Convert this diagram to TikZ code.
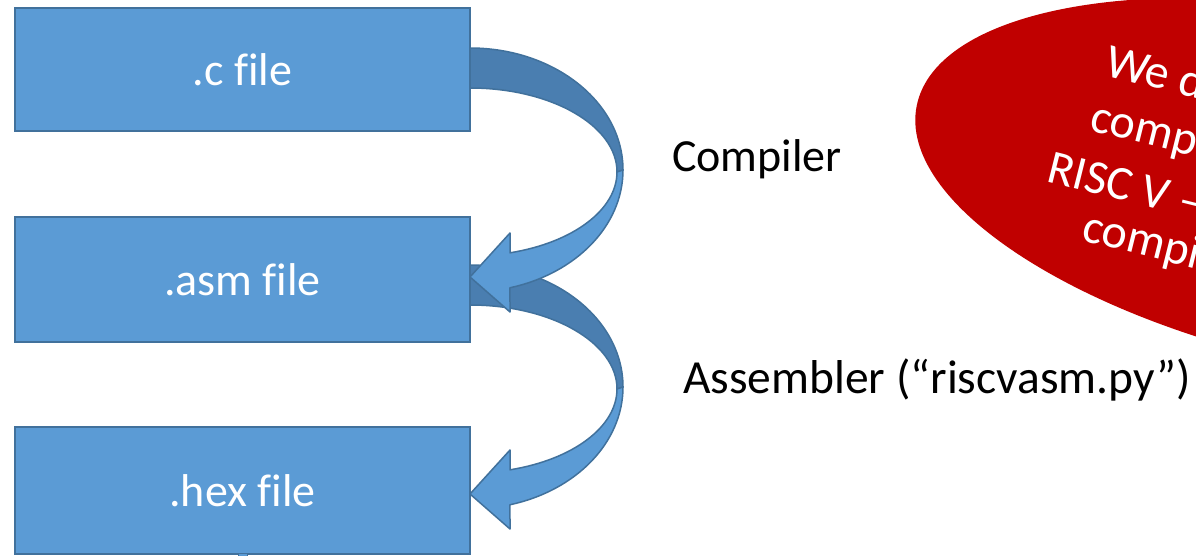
\documentclass[tikz,border=0pt]{standalone}
\usepackage{fontspec}
\setmainfont{Carlito}[Ligatures=NoCommon]
\definecolor{boxfill}{HTML}{5B9BD5}
\definecolor{boxline}{HTML}{41719C}
\definecolor{backfill}{HTML}{4A7EB0}
\definecolor{ovalred}{HTML}{C00000}
\begin{document}
\begin{tikzpicture}[x=1pt,y=-1pt,
  filebox/.style={draw=boxline, line width=2pt, fill=boxfill, minimum width=455pt,
    text=white, font=\fontsize{46}{52}\selectfont, inner sep=0pt},
  arrowfront/.style={draw=boxline, line width=1.5pt, fill=boxfill, line join=round},
  arrowback/.style={draw=boxline, line width=1.5pt, fill=backfill, line join=round},
  label/.style={font=\fontsize{46}{52}\selectfont, anchor=base west, inner sep=0pt},
  ovaltext/.style={font=\fontsize{48}{54}\selectfont, text=white, anchor=base west, inner sep=0pt, rotate=-14}]
\useasboundingbox (0,0) rectangle (1196,556);
\clip (0,0) rectangle (1196,556);
% red oval
\fill[ovalred, rotate around={-11.4:(1350,193)}] (1350,193) ellipse [x radius=442pt, y radius=178pt];
\node[ovaltext] (t1) at (1103,75) {We don't};
\node[ovaltext] (t2) at (1088,130) {compiler};
\node[ovaltext] (t3) at (1045,181) {RISC V —};
\node[ovaltext] (t4) at (1080,240) {compiler};
% boxes
\node[filebox, minimum height=123pt] (c) at (242.5,69.5) {.c file};
\node[filebox, minimum height=125pt] (asm) at (242.5,279.5) {.asm file};
\node[filebox, minimum height=127pt] (hex) at (242.5,490.5) {.hex file};
% small tab below hex box
\draw[draw=boxline, line width=1pt, fill=boxfill] (238,553) rectangle (247,560);
% arrow 2 (asm -> hex)
\begin{scope}[yshift=-217pt]
\draw[arrowback] (470,48) arc[start angle=90, end angle=0, x radius=153pt, y radius=122pt]
  -- (617,172) arc[start angle=0, end angle=90, x radius=147pt, y radius=84pt] -- cycle;
\draw[arrowfront] (623,170) arc[start angle=0, end angle=-74.85, x radius=153pt, y radius=122pt]
  -- (510,312) -- (470,277) -- (510,233) -- (510,252.8)
  arc[start angle=-74.2, end angle=0, x radius=147pt, y radius=84pt] -- cycle;
\end{scope}
% arrow 1 (c -> asm)
\draw[arrowback] (470,48) arc[start angle=90, end angle=0, x radius=153pt, y radius=122pt]
  -- (617,172) arc[start angle=0, end angle=90, x radius=147pt, y radius=84pt] -- cycle;
\draw[arrowfront] (623,170) arc[start angle=0, end angle=-74.85, x radius=153pt, y radius=122pt]
  -- (510,312) -- (470,277) -- (510,233) -- (510,252.8)
  arc[start angle=-74.2, end angle=0, x radius=147pt, y radius=84pt] -- cycle;
% labels
\node[label] (comp) at (672,172) {Compiler};
\node[label, font=\fontsize{47.5}{52}\selectfont] (asmb) at (683,393) {Assembler (“riscvasm.py”)};
\end{tikzpicture}
\end{document}
